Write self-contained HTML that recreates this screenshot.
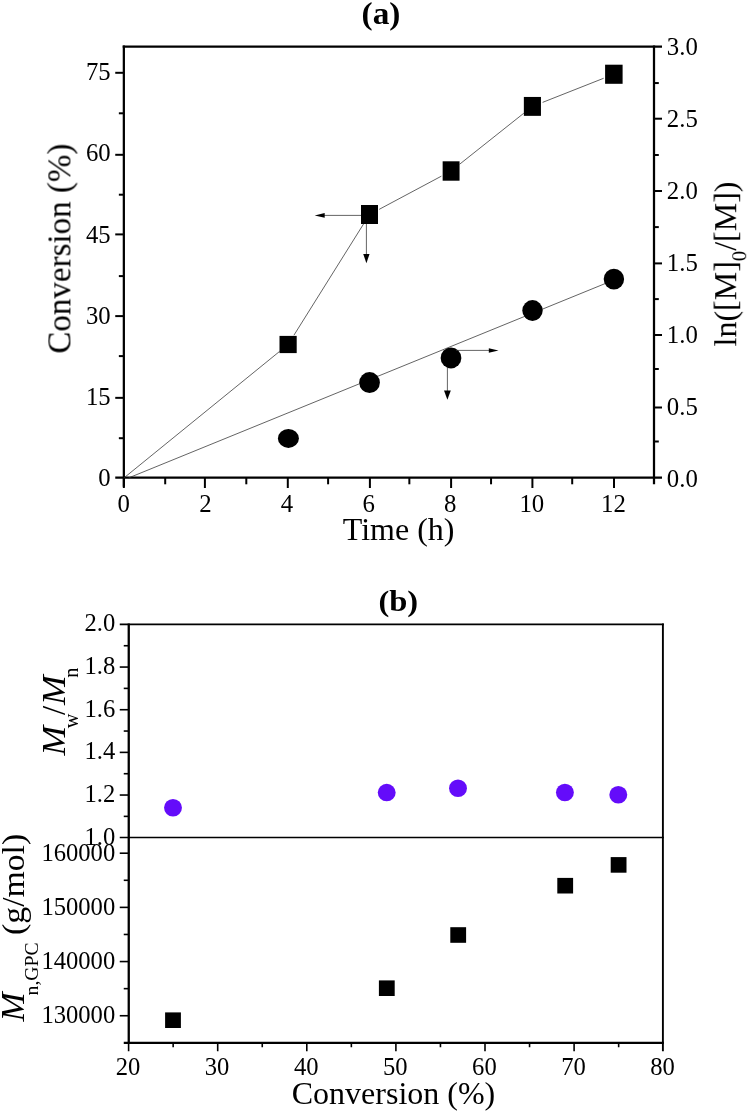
<!DOCTYPE html>
<html>
<head>
<meta charset="utf-8">
<title>Figure</title>
<style>
html, body { margin: 0; padding: 0; background: #ffffff; }
body { width: 749px; height: 1115px; overflow: hidden; font-family: "Liberation Serif", serif; }
svg { display: block; }
svg text { font-family: "Liberation Serif", serif; fill: #000; }
</style>
</head>
<body>
<svg width="749" height="1115" viewBox="0 0 749 1115">
<rect x="0" y="0" width="749" height="1115" fill="#ffffff"/>
<g style="filter:grayscale(1)">
<line x1="123.85" y1="45.48" x2="123.85" y2="486.70" stroke="#000" stroke-width="2.25" />
<line x1="115.25" y1="477.70" x2="662.00" y2="477.70" stroke="#000" stroke-width="2.25" />
<line x1="122.72" y1="46.60" x2="662.00" y2="46.60" stroke="#000" stroke-width="2.25" />
<line x1="654.00" y1="45.48" x2="654.00" y2="484.30" stroke="#000" stroke-width="2.25" />
<text x="110.60" y="485.77" font-size="24.7" text-anchor="end" >0</text>
<line x1="118.85" y1="438.20" x2="123.85" y2="438.20" stroke="#000" stroke-width="2.0" />
<line x1="115.25" y1="397.85" x2="123.85" y2="397.85" stroke="#000" stroke-width="2.0" />
<text x="110.60" y="404.70" font-size="24.7" text-anchor="end" >15</text>
<line x1="118.85" y1="356.10" x2="123.85" y2="356.10" stroke="#000" stroke-width="2.0" />
<line x1="115.25" y1="316.10" x2="123.85" y2="316.10" stroke="#000" stroke-width="2.0" />
<text x="110.60" y="323.62" font-size="24.7" text-anchor="end" >30</text>
<line x1="118.85" y1="276.10" x2="123.85" y2="276.10" stroke="#000" stroke-width="2.0" />
<line x1="115.25" y1="234.40" x2="123.85" y2="234.40" stroke="#000" stroke-width="2.0" />
<text x="110.60" y="242.55" font-size="24.7" text-anchor="end" >45</text>
<line x1="118.85" y1="194.70" x2="123.85" y2="194.70" stroke="#000" stroke-width="2.0" />
<line x1="115.25" y1="154.80" x2="123.85" y2="154.80" stroke="#000" stroke-width="2.0" />
<text x="110.60" y="161.48" font-size="24.7" text-anchor="end" >60</text>
<line x1="118.85" y1="113.30" x2="123.85" y2="113.30" stroke="#000" stroke-width="2.0" />
<line x1="115.25" y1="72.80" x2="123.85" y2="72.80" stroke="#000" stroke-width="2.0" />
<text x="110.60" y="80.40" font-size="24.7" text-anchor="end" >75</text>
<line x1="123.85" y1="477.70" x2="123.85" y2="488.00" stroke="#000" stroke-width="2.0" />
<text x="123.80" y="511.60" font-size="24.8" text-anchor="middle" >0</text>
<line x1="165.20" y1="477.70" x2="165.20" y2="484.30" stroke="#000" stroke-width="2.0" />
<line x1="204.90" y1="477.70" x2="204.90" y2="488.00" stroke="#000" stroke-width="2.0" />
<text x="205.40" y="511.60" font-size="24.8" text-anchor="middle" >2</text>
<line x1="246.30" y1="477.70" x2="246.30" y2="484.30" stroke="#000" stroke-width="2.0" />
<line x1="287.80" y1="477.70" x2="287.80" y2="488.00" stroke="#000" stroke-width="2.0" />
<text x="287.00" y="511.60" font-size="24.8" text-anchor="middle" >4</text>
<line x1="328.10" y1="477.70" x2="328.10" y2="484.30" stroke="#000" stroke-width="2.0" />
<line x1="369.90" y1="477.70" x2="369.90" y2="488.00" stroke="#000" stroke-width="2.0" />
<text x="368.60" y="511.60" font-size="24.8" text-anchor="middle" >6</text>
<line x1="409.35" y1="477.70" x2="409.35" y2="484.30" stroke="#000" stroke-width="2.0" />
<line x1="451.10" y1="477.70" x2="451.10" y2="488.00" stroke="#000" stroke-width="2.0" />
<text x="450.20" y="511.60" font-size="24.8" text-anchor="middle" >8</text>
<line x1="491.05" y1="477.70" x2="491.05" y2="484.30" stroke="#000" stroke-width="2.0" />
<line x1="532.40" y1="477.70" x2="532.40" y2="488.00" stroke="#000" stroke-width="2.0" />
<text x="531.80" y="511.60" font-size="24.8" text-anchor="middle" >10</text>
<line x1="572.20" y1="477.70" x2="572.20" y2="484.30" stroke="#000" stroke-width="2.0" />
<line x1="614.00" y1="477.70" x2="614.00" y2="488.00" stroke="#000" stroke-width="2.0" />
<text x="613.40" y="511.60" font-size="24.8" text-anchor="middle" >12</text>
<text x="666.80" y="486.50" font-size="24.8" text-anchor="start" >0.0</text>
<line x1="654.00" y1="441.50" x2="658.80" y2="441.50" stroke="#000" stroke-width="2.0" />
<line x1="654.00" y1="407.50" x2="662.00" y2="407.50" stroke="#000" stroke-width="2.0" />
<text x="666.80" y="414.50" font-size="24.8" text-anchor="start" >0.5</text>
<line x1="654.00" y1="369.00" x2="658.80" y2="369.00" stroke="#000" stroke-width="2.0" />
<line x1="654.00" y1="335.00" x2="662.00" y2="335.00" stroke="#000" stroke-width="2.0" />
<text x="666.80" y="342.50" font-size="24.8" text-anchor="start" >1.0</text>
<line x1="654.00" y1="299.10" x2="658.80" y2="299.10" stroke="#000" stroke-width="2.0" />
<line x1="654.00" y1="263.40" x2="662.00" y2="263.40" stroke="#000" stroke-width="2.0" />
<text x="666.80" y="270.50" font-size="24.8" text-anchor="start" >1.5</text>
<line x1="654.00" y1="227.10" x2="658.80" y2="227.10" stroke="#000" stroke-width="2.0" />
<line x1="654.00" y1="191.00" x2="662.00" y2="191.00" stroke="#000" stroke-width="2.0" />
<text x="666.80" y="198.50" font-size="24.8" text-anchor="start" >2.0</text>
<line x1="654.00" y1="155.00" x2="658.80" y2="155.00" stroke="#000" stroke-width="2.0" />
<line x1="654.00" y1="118.70" x2="662.00" y2="118.70" stroke="#000" stroke-width="2.0" />
<text x="666.80" y="126.50" font-size="24.8" text-anchor="start" >2.5</text>
<line x1="654.00" y1="83.05" x2="658.80" y2="83.05" stroke="#000" stroke-width="2.0" />
<text x="666.80" y="54.50" font-size="24.8" text-anchor="start" >3.0</text>
<text transform="translate(381.0,23.9) scale(1.09,1)" font-size="30.6" text-anchor="middle" font-weight="bold">(a)</text>
<text transform="translate(70.4,248.6) rotate(-90)" font-size="33" text-anchor="middle">Conversion (%)</text>
<text x="398.6" y="540.2" font-size="32" text-anchor="middle">Time (h)</text>
<text transform="translate(736.2,264) rotate(-90)" font-size="32" text-anchor="middle">ln([M]<tspan font-size="20.8" dy="10">0</tspan><tspan dy="-10">/[M])</tspan></text>
<line x1="123.85" y1="478.00" x2="279.56" y2="351.44" stroke="#303030" stroke-width="0.75" />
<line x1="293.94" y1="335.18" x2="363.66" y2="223.82" stroke="#303030" stroke-width="0.75" />
<line x1="379.21" y1="209.33" x2="441.39" y2="176.17" stroke="#303030" stroke-width="0.75" />
<line x1="459.71" y1="164.16" x2="523.79" y2="113.24" stroke="#303030" stroke-width="0.75" />
<line x1="542.63" y1="102.36" x2="603.62" y2="78.29" stroke="#303030" stroke-width="0.75" />
<line x1="128.40" y1="478.00" x2="613.90" y2="280.00" stroke="#303030" stroke-width="0.75" />
<rect x="279.50" y="335.90" width="17.20" height="17.20" fill="#000"/>
<rect x="361.00" y="205.00" width="17.00" height="19.00" fill="#000"/>
<rect x="442.65" y="161.30" width="16.90" height="19.40" fill="#000"/>
<rect x="523.85" y="96.95" width="17.10" height="18.90" fill="#000"/>
<rect x="605.10" y="64.70" width="17.50" height="19.10" fill="#000"/>
<ellipse cx="288.40" cy="438.40" rx="10.50" ry="9.50" fill="#000"/>
<ellipse cx="369.55" cy="382.55" rx="10.35" ry="10.45" fill="#000"/>
<ellipse cx="451.00" cy="357.90" rx="10.35" ry="10.50" fill="#000"/>
<ellipse cx="532.50" cy="310.50" rx="10.20" ry="10.40" fill="#000"/>
<ellipse cx="613.90" cy="279.10" rx="10.20" ry="10.40" fill="#000"/>
<line x1="361.00" y1="215.40" x2="323.70" y2="215.40" stroke="#303030" stroke-width="0.75" />
<polygon points="314.70,215.40 324.70,213.00 324.70,217.80" fill="#000"/>
<line x1="366.40" y1="224.00" x2="366.40" y2="254.90" stroke="#303030" stroke-width="0.75" />
<polygon points="366.40,263.20 363.25,253.90 369.55,253.90" fill="#000"/>
<line x1="456.00" y1="350.40" x2="489.80" y2="350.40" stroke="#303030" stroke-width="0.75" />
<polygon points="498.50,350.40 488.80,352.65 488.80,348.15" fill="#000"/>
<line x1="447.40" y1="367.00" x2="447.40" y2="391.50" stroke="#303030" stroke-width="0.75" />
<polygon points="447.40,399.80 444.00,390.50 450.80,390.50" fill="#000"/>
<line x1="128.75" y1="623.55" x2="128.75" y2="1043.95" stroke="#000" stroke-width="2.3" />
<line x1="119.75" y1="624.40" x2="663.85" y2="624.40" stroke="#000" stroke-width="1.8" />
<line x1="119.75" y1="837.50" x2="663.85" y2="837.50" stroke="#000" stroke-width="1.7" />
<line x1="662.90" y1="623.55" x2="662.90" y2="1051.25" stroke="#000" stroke-width="1.9" />
<line x1="123.75" y1="1042.85" x2="663.85" y2="1042.85" stroke="#000" stroke-width="2.2" />
<text x="115.20" y="844.70" font-size="24.6" text-anchor="end" >1.0</text>
<line x1="123.75" y1="816.37" x2="128.75" y2="816.37" stroke="#000" stroke-width="1.6" />
<line x1="119.75" y1="795.04" x2="128.75" y2="795.04" stroke="#000" stroke-width="1.6" />
<text x="115.20" y="802.04" font-size="24.6" text-anchor="end" >1.2</text>
<line x1="123.75" y1="773.71" x2="128.75" y2="773.71" stroke="#000" stroke-width="1.6" />
<line x1="119.75" y1="752.38" x2="128.75" y2="752.38" stroke="#000" stroke-width="1.6" />
<text x="115.20" y="759.38" font-size="24.6" text-anchor="end" >1.4</text>
<line x1="123.75" y1="731.05" x2="128.75" y2="731.05" stroke="#000" stroke-width="1.6" />
<line x1="119.75" y1="709.72" x2="128.75" y2="709.72" stroke="#000" stroke-width="1.6" />
<text x="115.20" y="716.72" font-size="24.6" text-anchor="end" >1.6</text>
<line x1="123.75" y1="688.39" x2="128.75" y2="688.39" stroke="#000" stroke-width="1.6" />
<line x1="119.75" y1="667.06" x2="128.75" y2="667.06" stroke="#000" stroke-width="1.6" />
<text x="115.20" y="674.06" font-size="24.6" text-anchor="end" >1.8</text>
<line x1="123.75" y1="645.73" x2="128.75" y2="645.73" stroke="#000" stroke-width="1.6" />
<text x="115.20" y="631.40" font-size="24.6" text-anchor="end" >2.0</text>
<line x1="119.75" y1="1015.74" x2="128.75" y2="1015.74" stroke="#000" stroke-width="1.6" />
<text x="115.20" y="1023.14" font-size="24.6" text-anchor="end" >130000</text>
<line x1="123.75" y1="988.65" x2="128.75" y2="988.65" stroke="#000" stroke-width="1.6" />
<line x1="119.75" y1="961.56" x2="128.75" y2="961.56" stroke="#000" stroke-width="1.6" />
<text x="115.20" y="968.96" font-size="24.6" text-anchor="end" >140000</text>
<line x1="123.75" y1="934.47" x2="128.75" y2="934.47" stroke="#000" stroke-width="1.6" />
<line x1="119.75" y1="907.38" x2="128.75" y2="907.38" stroke="#000" stroke-width="1.6" />
<text x="115.20" y="914.78" font-size="24.6" text-anchor="end" >150000</text>
<line x1="123.75" y1="880.29" x2="128.75" y2="880.29" stroke="#000" stroke-width="1.6" />
<line x1="119.75" y1="853.20" x2="128.75" y2="853.20" stroke="#000" stroke-width="1.6" />
<text x="115.20" y="860.60" font-size="24.6" text-anchor="end" >160000</text>
<line x1="128.60" y1="1042.85" x2="128.60" y2="1051.25" stroke="#000" stroke-width="1.6" />
<text x="128.00" y="1075.40" font-size="24.6" text-anchor="middle" >20</text>
<line x1="173.15" y1="1042.85" x2="173.15" y2="1047.25" stroke="#000" stroke-width="1.6" />
<line x1="217.70" y1="1042.85" x2="217.70" y2="1051.25" stroke="#000" stroke-width="1.6" />
<text x="217.10" y="1075.40" font-size="24.6" text-anchor="middle" >30</text>
<line x1="262.25" y1="1042.85" x2="262.25" y2="1047.25" stroke="#000" stroke-width="1.6" />
<line x1="306.80" y1="1042.85" x2="306.80" y2="1051.25" stroke="#000" stroke-width="1.6" />
<text x="306.20" y="1075.40" font-size="24.6" text-anchor="middle" >40</text>
<line x1="351.35" y1="1042.85" x2="351.35" y2="1047.25" stroke="#000" stroke-width="1.6" />
<line x1="395.90" y1="1042.85" x2="395.90" y2="1051.25" stroke="#000" stroke-width="1.6" />
<text x="395.30" y="1075.40" font-size="24.6" text-anchor="middle" >50</text>
<line x1="440.45" y1="1042.85" x2="440.45" y2="1047.25" stroke="#000" stroke-width="1.6" />
<line x1="485.00" y1="1042.85" x2="485.00" y2="1051.25" stroke="#000" stroke-width="1.6" />
<text x="484.40" y="1075.40" font-size="24.6" text-anchor="middle" >60</text>
<line x1="529.55" y1="1042.85" x2="529.55" y2="1047.25" stroke="#000" stroke-width="1.6" />
<line x1="574.10" y1="1042.85" x2="574.10" y2="1051.25" stroke="#000" stroke-width="1.6" />
<text x="573.50" y="1075.40" font-size="24.6" text-anchor="middle" >70</text>
<line x1="618.65" y1="1042.85" x2="618.65" y2="1047.25" stroke="#000" stroke-width="1.6" />
<text x="662.60" y="1075.40" font-size="24.6" text-anchor="middle" >80</text>
<text transform="translate(398.3,611.3) scale(1.07,1)" font-size="30.4" text-anchor="middle" font-weight="bold">(b)</text>
<text x="393.5" y="1104.1" font-size="32" text-anchor="middle">Conversion (%)</text>
<text transform="translate(65,755.6) rotate(-90) scale(1.08,1)" font-size="33" text-anchor="start" font-style="italic">M</text>
<text transform="translate(77.7,728.2) rotate(-90) scale(0.98,1)" font-size="20.6" text-anchor="start">w</text>
<text transform="translate(65,714.9) rotate(-90)" font-size="33" text-anchor="start">/</text>
<text transform="translate(65,705.1) rotate(-90) scale(1.08,1)" font-size="33" text-anchor="start" font-style="italic">M</text>
<text transform="translate(77.7,677.8) rotate(-90) scale(0.98,1)" font-size="20.6" text-anchor="start">n</text>
<text transform="translate(24.4,1021.6) rotate(-90) scale(1.07,1)" font-size="32.7" text-anchor="start" font-style="italic">M</text>
<text transform="translate(37.9,995.4) rotate(-90)" font-size="19.7" text-anchor="start">n,GPC</text>
<text transform="translate(24.4,934.9) rotate(-90) scale(1.047,1)" font-size="32.2" text-anchor="start">(g/mol)</text>
</g>
<ellipse cx="173.00" cy="807.70" rx="8.95" ry="8.75" fill="#640cfa"/>
<ellipse cx="386.70" cy="792.60" rx="8.95" ry="8.75" fill="#640cfa"/>
<ellipse cx="458.00" cy="788.30" rx="8.95" ry="8.75" fill="#640cfa"/>
<ellipse cx="564.90" cy="792.50" rx="8.95" ry="8.75" fill="#640cfa"/>
<ellipse cx="618.30" cy="794.70" rx="8.95" ry="8.75" fill="#640cfa"/>
<g>
<rect x="165.10" y="1012.40" width="15.8" height="15.6" fill="#000"/>
<rect x="378.90" y="980.40" width="15.8" height="15.6" fill="#000"/>
<rect x="450.30" y="927.20" width="15.8" height="15.6" fill="#000"/>
<rect x="557.30" y="877.90" width="15.8" height="15.6" fill="#000"/>
<rect x="610.70" y="857.10" width="15.8" height="15.6" fill="#000"/>
</g>
</svg>
</body>
</html>
